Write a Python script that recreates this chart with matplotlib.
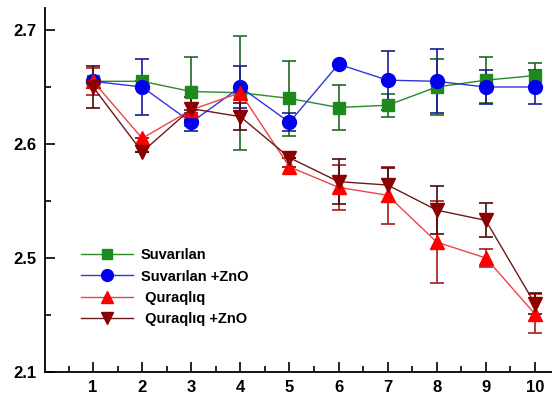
import numpy as np
import matplotlib.pyplot as plt
from matplotlib.ticker import FixedLocator

days = [1, 2, 3, 4, 5, 6, 7, 8, 9, 10]

suv = [2.655, 2.655, 2.646, 2.645, 2.640, 2.632, 2.634, 2.650, 2.656, 2.660]
suv_err = [0.0, 0.0, 0.030, 0.050, 0.033, 0.020, 0.010, 0.025, 0.020, 0.011]

suv_zno = [2.655, 2.650, 2.619, 2.650, 2.619, 2.670, 2.656, 2.655, 2.650, 2.650]
suv_zno_err = [0.0, 0.025, 0.008, 0.018, 0.008, 0.0, 0.026, 0.028, 0.015, 0.015]

qur = [2.655, 2.605, 2.630, 2.645, 2.580, 2.562, 2.555, 2.514, 2.500, 2.451]
qur_err = [0.012, 0.0, 0.0, 0.0, 0.0, 0.020, 0.025, 0.036, 0.008, 0.017]

qur_zno = [2.650, 2.593, 2.631, 2.624, 2.588, 2.567, 2.564, 2.542, 2.533, 2.460]
qur_zno_err = [0.018, 0.0, 0.010, 0.012, 0.0, 0.020, 0.015, 0.021, 0.015, 0.009]

labels = ['Suvarılan', 'Suvarılan +ZnO', ' Quraqlıq', ' Quraqlıq +ZnO']
y_ticks = [2.4, 2.5, 2.6, 2.7]
y_tick_labels = ['2.1', '2.5', '2.6', '2.7']

fig = plt.figure(figsize=(5.52, 4.01), dpi=100)
ax = fig.add_axes([45 / 552, 29 / 401, 1 - 45 / 552, (372 - 8) / 401])

# line colour, errorbar colour, marker, marker size
series = [
    (suv, suv_err, '#2a8a2a', '#1f6b1f', 's', 8),
    (suv_zno, suv_zno_err, '#3333dd', '#1a1a99', 'o', 10),
    (qur, qur_err, '#ee4444', '#aa1a1a', '^', 10),
    (qur_zno, qur_zno_err, '#6b1a1a', '#4a0a0a', 'v', 10),
]
mcols = ['#1e8a1e', '#0000ee', '#ff0000', '#8b0000']

for (vals, err, lc, ec, mk, ms), mc, lab in zip(series, mcols, labels):
    ax.errorbar(days, vals, yerr=err, fmt='none', ecolor=ec, elinewidth=1.2,
                capsize=5, capthick=1.2, zorder=2)
    ax.plot(days, vals, color=lc, lw=1.0, marker=mk, ms=ms, mfc=mc, mec=mc,
            label=lab, zorder=3)

ax.set_xlim(0.02, 10.35)
ax.set_ylim(2.4, 2.4 + 364 / 1140)

ax.xaxis.set_major_locator(FixedLocator(days))
ax.xaxis.set_minor_locator(FixedLocator(np.arange(0.5, 10.6, 1.0)))
ax.yaxis.set_major_locator(FixedLocator(y_ticks))
ax.set_yticklabels(y_tick_labels)
ax.yaxis.set_minor_locator(FixedLocator([2.45, 2.55, 2.65]))

ax.tick_params(which='major', direction='in', length=7, width=1.2, labelsize=12)
ax.tick_params(which='minor', direction='in', length=4, width=1.2)
for t in ax.get_xticklabels() + ax.get_yticklabels():
    t.set_fontweight('bold')
    t.set_family('Liberation Sans')
ax.tick_params(axis='x', pad=6)
ax.tick_params(axis='y', pad=6)

for s in ['top', 'right']:
    ax.spines[s].set_visible(False)
for s in ['left', 'bottom']:
    ax.spines[s].set_linewidth(1.3)

leg = ax.legend(loc='lower left', bbox_to_anchor=(0.045, 0.09), frameon=False,
                prop={'family': 'Liberation Sans', 'weight': 'bold', 'size': 10.5},
                handlelength=3.6, labelspacing=0.5, handletextpad=0.5, markerscale=0.85)

fig.savefig('out.png', dpi=100)
